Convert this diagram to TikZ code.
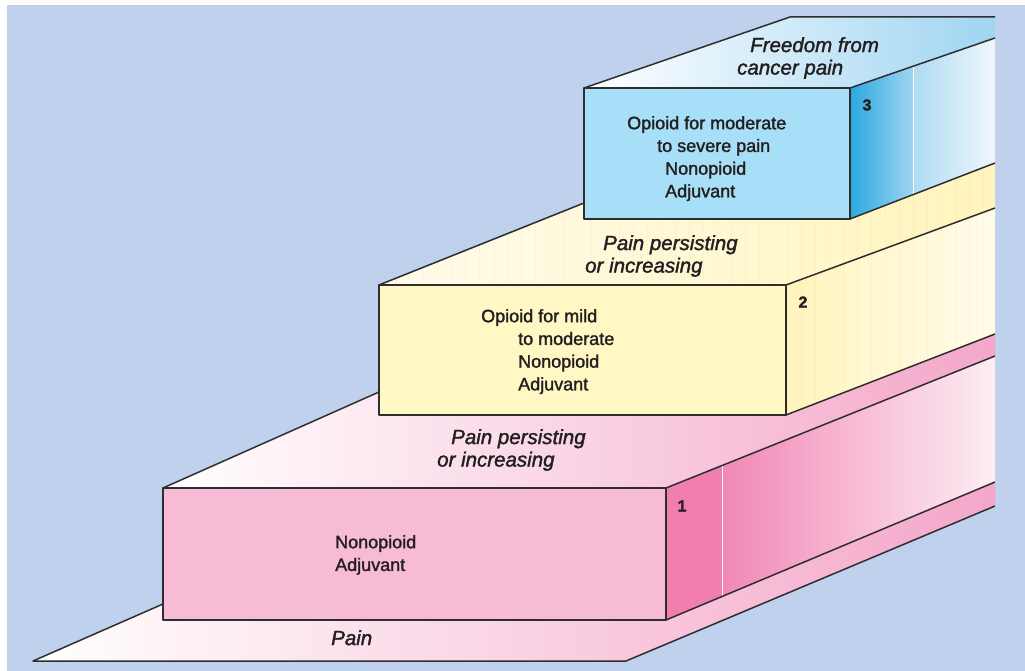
\documentclass[tikz,border=0pt]{standalone}
\usepackage{fontspec}
\setmainfont{Liberation Sans}[FakeBold=1.6]
\usetikzlibrary{calc}

\definecolor{bgblue}{HTML}{BFD1EC}
\definecolor{ink}{HTML}{231F20}
\definecolor{edgegray}{HTML}{2E2E2E}
\definecolor{pinkfront}{HTML}{F7BBD6}
\definecolor{pinkhot}{HTML}{F07EAF}
\definecolor{pinkmid}{HTML}{F4A7C9}
\definecolor{pinkpale}{HTML}{FDEEF4}
\definecolor{yelfront}{HTML}{FFF8C5}
\definecolor{yelmid}{HTML}{FFF4BD}
\definecolor{yelpale}{HTML}{FFFCEC}
\definecolor{bluefront}{HTML}{A8DFF8}
\definecolor{bluedark}{HTML}{2AA8E0}
\definecolor{bluemid}{HTML}{A0D5F1}
\definecolor{bluepale}{HTML}{F0F7FC}

\begin{document}
\begin{tikzpicture}[x=1pt, y=-1pt,
    edge/.style={draw=edgegray, line width=1.5pt, line join=round},
    boxtext/.style={anchor=north west, align=left, inner sep=0pt, text=ink,
        font=\fontsize{18}{22.7}\selectfont},
    levellabel/.style={anchor=north west, align=left, inner sep=0pt, text=ink,
        font=\fontsize{20.5}{22.5}\selectfont\itshape},
    stagenum/.style={inner sep=0pt, text=ink, font=\fontsize{16}{16}\selectfont\bfseries}]

    % Page and backdrop
    \useasboundingbox (0,0) rectangle (1025,671);
    \fill[white] (0,0) rectangle (1025,671);
    \fill[bgblue] (7,5) rectangle (1025,671);

    % Floor corners
    \coordinate (fl) at (33,661);
    \coordinate (fr) at (626,661);
    \coordinate (fe) at (995,506);
    \coordinate (fk) at (163,604);
    % Step 1 corners
    \coordinate (a1) at (163,488);
    \coordinate (b1) at (666,488);
    \coordinate (c1) at (666,620);
    \coordinate (d1) at (163,620);
    \coordinate (k1) at (379,392);
    \coordinate (t1) at (995,356);
    \coordinate (s1) at (995,482);
    % Step 2 corners
    \coordinate (a2) at (379,285);
    \coordinate (b2) at (786,285);
    \coordinate (c2) at (786,415);
    \coordinate (d2) at (379,415);
    \coordinate (k2) at (584,203);
    \coordinate (t2) at (995,208);
    \coordinate (s2) at (995,334);
    % Step 3 corners
    \coordinate (a3) at (584,88);
    \coordinate (b3) at (850,88);
    \coordinate (c3) at (850,219);
    \coordinate (d3) at (584,219);
    \coordinate (k3) at (790,17);
    \coordinate (e3) at (995,17);
    \coordinate (t3) at (995,38);
    \coordinate (s3) at (995,163);

    % Floor
    \shade[left color=white, right color=pinkmid]
        (fl) -- (fk) -- (d1) -- (c1) -- (s1) -- (fe) -- (fr) -- cycle;

    % Step 1
    \shade[left color=white, right color=pinkmid]
        (a1) -- (k1) -- (d2) -- (c2) -- (s2) -- (t1) -- (b1) -- cycle;
    \fill[pinkhot] (b1) -- ($(b1)!0.17!(t1)$) -- ($(c1)!0.17!(s1)$) -- (c1) -- cycle;
    \shade[left color=pinkhot!92!white, right color=pinkpale]
        ($(b1)!0.17!(t1)$) -- (t1) -- (s1) -- ($(c1)!0.17!(s1)$) -- cycle;
    \draw[white, line width=0.6pt] ($(b1)!0.17!(t1)$) -- ($(c1)!0.17!(s1)$);
    \fill[pinkfront] (a1) rectangle (c1);

    % Step 2
    \shade[left color=yelpale, right color=yelmid]
        (a2) -- (k2) -- (d3) -- (c3) -- (s3) -- (t2) -- (b2) -- cycle;
    \shade[left color=yelmid, right color=yelpale]
        (b2) -- (t2) -- (s2) -- (c2) -- cycle;
    \begin{scope}
        \clip (a2) -- (k2) -- (d3) -- (c3) -- (s3) -- (s2) -- (c2) -- (b2) -- cycle;
        \foreach \x in {395,409,...,995} {
            \draw[yellow!40!orange, opacity=0.08, line width=0.8pt] (\x,150) -- (\x,420);
        }
    \end{scope}
    \fill[yelfront] (a2) rectangle (c2);

    % Step 3
    \shade[left color=white, right color=bluemid]
        (a3) -- (k3) -- (e3) -- (t3) -- (b3) -- cycle;
    \shade[left color=bluedark, right color=bluemid]
        (b3) -- ($(b3)!0.434!(t3)$) -- ($(c3)!0.434!(s3)$) -- (c3) -- cycle;
    \shade[left color=bluemid!85!white, right color=bluepale]
        ($(b3)!0.434!(t3)$) -- (t3) -- (s3) -- ($(c3)!0.434!(s3)$) -- cycle;
    \draw[white, line width=0.6pt] ($(b3)!0.434!(t3)$) -- ($(c3)!0.434!(s3)$);
    \fill[bluefront] (a3) rectangle (c3);

    % Outlines
    \draw[edge] (fk) -- (fl) -- (fr) -- (fe);
    \draw[edge] (c1) -- (s1);
    \draw[edge] (a1) rectangle (c1);
    \draw[edge] (a1) -- (k1);
    \draw[edge] (b1) -- (t1);
    \draw[edge] (c2) -- (s2);
    \draw[edge] (a2) rectangle (c2);
    \draw[edge] (a2) -- (k2);
    \draw[edge] (b2) -- (t2);
    \draw[edge] (c3) -- (s3);
    \draw[edge] (a3) rectangle (c3);
    \draw[edge] (a3) -- (k3) -- (e3);
    \draw[edge] (b3) -- (t3);

    % Texts on the steps
    \node[boxtext] (txt3) at (627,116)
        {Opioid for moderate\\\hspace*{30pt}to severe pain\\\hspace*{38pt}Nonopioid\\\hspace*{38pt}Adjuvant};
    \node[boxtext] (txt2) at (481,309)
        {Opioid for mild\\\hspace*{37pt}to moderate\\\hspace*{37pt}Nonopioid\\\hspace*{37pt}Adjuvant};
    \node[boxtext] (txt1) at (335,535) {Nonopioid\\Adjuvant};
    \node[stagenum] (n3) at (867,105) {3};
    \node[stagenum] (n2) at (803,302) {2};
    \node[stagenum] (n1) at (682,506) {1};

    % Labels on the treads
    \node[levellabel] (goal) at (737,37) {\hspace*{13pt}Freedom from\\cancer pain};
    \node[levellabel] (pers2) at (585,235) {\hspace*{18pt}Pain persisting\\or increasing};
    \node[levellabel] (pers1) at (437,429) {\hspace*{14pt}Pain persisting\\or increasing};
    \node[levellabel] (pain) at (331,630) {Pain};
\end{tikzpicture}
\end{document}
